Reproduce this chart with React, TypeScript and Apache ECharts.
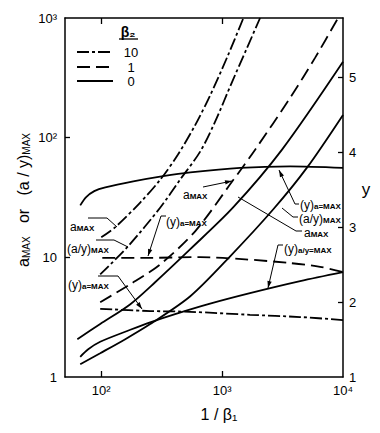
import React, { useEffect, useRef } from "react";
import * as echarts from "echarts";

// ---- data (1/beta1 on x, a on left log axis, y on right linear axis) ----
// beta2 = 10 (dash-dot)
const ddAmaxX = [100, 130, 210, 310, 430, 600, 800, 1120, 1500];
const ddAmaxY = [14.7, 17.8, 28.7, 45, 72, 128, 228, 490, 1000];
const ddAoyX = [98, 167, 308, 450, 658, 875, 1210, 1580, 2060];
const ddAoyY = [7.2, 12.4, 26.1, 44.7, 76.4, 136, 293, 541, 1000];
const ddYX = [98, 254, 545, 1700, 4420, 10000];
const ddYY = [1.91, 1.88, 1.87, 1.83, 1.8, 1.76];
// beta2 = 1 (dashed)
const daAmaxX = [98, 174, 308, 598, 1210, 1875, 3650, 5870, 9100];
const daAmaxY = [4.22, 5.96, 8.75, 16.5, 43, 79.4, 215, 464, 1000];
const daYX = [102, 254, 658, 1550, 3650, 6460, 10000];
const daYY = [2.59, 2.59, 2.6, 2.57, 2.52, 2.47, 2.4];
// beta2 = 0 (solid)
const soAmaxX = [63.4, 98, 174, 279, 545, 1233, 3130, 10000];
const soAmaxY = [2.07, 2.77, 4.06, 6.19, 11.7, 26.1, 79.4, 430];
const soAoyX = [67, 98, 158, 254, 545, 1165, 2640, 5035, 10000];
const soAoyY = [1.28, 1.58, 2.07, 2.77, 4.73, 10.2, 25.1, 56.2, 155];
const soYaX = [67, 75, 87.5, 108, 184, 325, 545, 1410, 3650, 10000];
const soYaY = [3.29, 3.4, 3.48, 3.53, 3.61, 3.68, 3.73, 3.79, 3.81, 3.79];
const soYaoyX = [67, 78, 98, 174, 254, 408, 795, 1700, 4420, 10000];
const soYaoyY = [1.27, 1.37, 1.47, 1.63, 1.73, 1.84, 1.98, 2.12, 2.28, 2.4];

const xTickExp = [2, 3, 4];
const xTickLabels = ["10²", "10³", "10⁴"];
const leftTickLabels = ["1", "10", "10²", "10³"];
const rightTicks = [1, 2, 3, 4, 5];
const legendLabels = ["10", "1", "0"];

const FONT = "Liberation Sans";
const DASHDOT = [12, 3, 3, 3];
const DASHED = [13, 6];

const logPts = (xs: number[], ys: number[]) => xs.map((x, i) => [Math.log10(x), Math.log10(ys[i])]);
const linPts = (xs: number[], ys: number[]) => xs.map((x, i) => [Math.log10(x), ys[i]]);

const rich = {
  n: { fontSize: 12, fontFamily: FONT, lineHeight: 15, verticalAlign: "bottom", fill: "#000" },
  s: { fontSize: 8, fontFamily: FONT, lineHeight: 8, verticalAlign: "bottom", fill: "#000", fontWeight: "bold" },
  N: { fontSize: 16, fontFamily: FONT, lineHeight: 20, verticalAlign: "bottom", fill: "#000" },
  S: { fontSize: 10, fontFamily: FONT, lineHeight: 10, verticalAlign: "bottom", fill: "#000" },
};
const sub = (m: string, s: string) => `{n|${m}}{s|${s}}`;

function label(text: string, x: number, y: number) {
  return { type: "text", x, y, style: { text, rich, align: "left", verticalAlign: "middle" } };
}
function leader(points: number[][], arrow: boolean) {
  const els: any[] = [
    { type: "polyline", shape: { points }, style: { stroke: "#000", lineWidth: 1, fill: "none" } },
  ];
  if (arrow) {
    const q = points[points.length - 1];
    const p = points[points.length - 2];
    const dx = q[0] - p[0], dy = q[1] - p[1];
    const L = Math.hypot(dx, dy);
    const ux = dx / L, uy = dy / L;
    const bx = q[0] - ux * 7, by = q[1] - uy * 7;
    els.push({
      type: "polygon",
      shape: { points: [q, [bx - uy * 2.2, by + ux * 2.2], [bx + uy * 2.2, by - ux * 2.2]] },
      style: { fill: "#000" },
    });
  }
  return els;
}

export default function App() {
  const ref = useRef<HTMLDivElement>(null);
  useEffect(() => {
    document.body.style.margin = "0";
    const chart = echarts.init(ref.current!, undefined, { renderer: "svg" });
    const line = (data: number[][], dash: any, yAxisIndex: number) => ({
      type: "line",
      data,
      yAxisIndex,
      smooth: 0.3,
      symbol: "none",
      lineStyle: { color: "#000", width: 1.8, type: dash },
      silent: true,
    });
    const axisCommon = {
      axisLine: { show: true, onZero: false, lineStyle: { color: "#000", width: 1.5 } },
      splitLine: { show: false },
    };
    const legendY = [52, 67, 81];
    const legendDash = [DASHDOT, DASHED, null];
    const graphic: any[] = [
      { type: "text", x: 128, y: 32, style: { text: "β₂", font: `bold 14px ${FONT}`, fill: "#000", align: "center", verticalAlign: "middle" } },
      { type: "line", shape: { x1: 119, y1: 39, x2: 138, y2: 39 }, style: { stroke: "#000", lineWidth: 1.3 } },
      ...legendY.flatMap((y, i) => [
        { type: "line", shape: { x1: 77, y1: y, x2: 113, y2: y }, style: { stroke: "#000", lineWidth: 1.8, lineDash: legendDash[i] || undefined } },
        { type: "text", x: 131, y, style: { text: legendLabels[i], font: `13px ${FONT}`, fill: "#000", align: "center", verticalAlign: "middle" } },
      ]),
      // axis titles
      {
        type: "text", x: 21, y: 200, rotation: Math.PI / 2,
        style: { text: "{N|a}{S|MAX}{N|\u00a0\u00a0\u00a0or\u00a0\u00a0\u00a0(a / y)}{S|MAX}", rich, align: "center", verticalAlign: "middle" },
      },
      { type: "text", x: 219, y: 414, style: { text: "1 / β₁", font: `16px ${FONT}`, fill: "#000", align: "center", verticalAlign: "middle" } },
      { type: "text", x: 366, y: 189, style: { text: "y", font: `17px ${FONT}`, fill: "#000", align: "center", verticalAlign: "middle" } },
      // annotations
      label(sub("a", "MAX"), 70, 225),
      ...leader([[88, 218], [107, 218], [117, 227]], false),
      label(sub("(a/y)", "MAX"), 67, 247),
      ...leader([[96, 240], [114, 240], [128, 247]], false),
      label(sub("(y)", "a=MAX"), 68, 283),
      ...leader([[98, 276], [118, 276], [142, 309]], true),
      label(sub("a", "MAX"), 183, 193),
      ...leader([[203, 187], [232, 181]], true),
      label(sub("(y)", "a=MAX"), 166, 220),
      ...leader([[166, 216], [161, 216], [148, 256]], true),
      label(sub("(y)", "a=MAX"), 300, 203),
      ...leader([[299, 204], [295, 204], [279, 170]], true),
      label(sub("(a/y)", "MAX"), 299, 217),
      ...leader([[298, 217], [293, 217], [282, 208]], false),
      label(sub("a", "MAX"), 304, 231),
      ...leader([[302, 231], [296, 231], [238, 197]], false),
      label(sub("(y)", "a/y=MAX"), 284, 247),
      ...leader([[283, 245], [278, 245], [268, 288]], true),
    ];
    chart.setOption({
      animation: false,
      grid: { left: 65, right: 37, top: 18, bottom: 56, containLabel: false },
      xAxis: [
        {
          type: "value", min: 1.7, max: 4, position: "bottom", ...axisCommon,
          axisTick: { show: true, inside: true, length: 6, customValues: [2, 3], lineStyle: { color: "#000", width: 1.3 } },
          axisLabel: {
            customValues: xTickExp, margin: 7, color: "#000", fontSize: 13, fontFamily: FONT,
            formatter: (v: number) => xTickLabels[xTickExp.indexOf(Math.round(v))] ?? "",
          },
        },
        {
          type: "value", min: 1.7, max: 4, position: "top", ...axisCommon,
          axisTick: { show: true, inside: true, length: 6, customValues: [2, 3], lineStyle: { color: "#000", width: 1.3 } },
          axisLabel: { show: false },
        },
      ],
      yAxis: [
        {
          type: "value", min: 0, max: 3, interval: 1, position: "left", ...axisCommon,
          axisTick: { show: true, inside: true, length: 5, customValues: [1, 2], lineStyle: { color: "#000", width: 1.3 } },
          axisLabel: {
            margin: 8, color: "#000", fontSize: 13, fontFamily: FONT,
            formatter: (v: number) => leftTickLabels[Math.round(v)] ?? "",
          },
        },
        {
          type: "value", min: 1, max: 5.79, position: "right", ...axisCommon,
          axisTick: { show: true, inside: true, length: 5, customValues: [2, 3, 4, 5], lineStyle: { color: "#000", width: 1.3 } },
          axisLabel: { customValues: rightTicks, margin: 6, color: "#000", fontSize: 13, fontFamily: FONT },
        },
      ],
      series: [
        line(logPts(ddAmaxX, ddAmaxY), DASHDOT, 0),
        line(logPts(ddAoyX, ddAoyY), DASHDOT, 0),
        line(logPts(daAmaxX, daAmaxY), DASHED, 0),
        line(logPts(soAmaxX, soAmaxY), "solid", 0),
        line(logPts(soAoyX, soAoyY), "solid", 0),
        line(linPts(ddYX, ddYY), DASHDOT, 1),
        line(linPts(daYX, daYY), DASHED, 1),
        line(linPts(soYaX, soYaY), "solid", 1),
        line(linPts(soYaoyX, soYaoyY), "solid", 1),
      ],
      graphic,
    });
    return () => chart.dispose();
  }, []);
  return <div ref={ref} style={{ width: 380, height: 433 }} />;
}
